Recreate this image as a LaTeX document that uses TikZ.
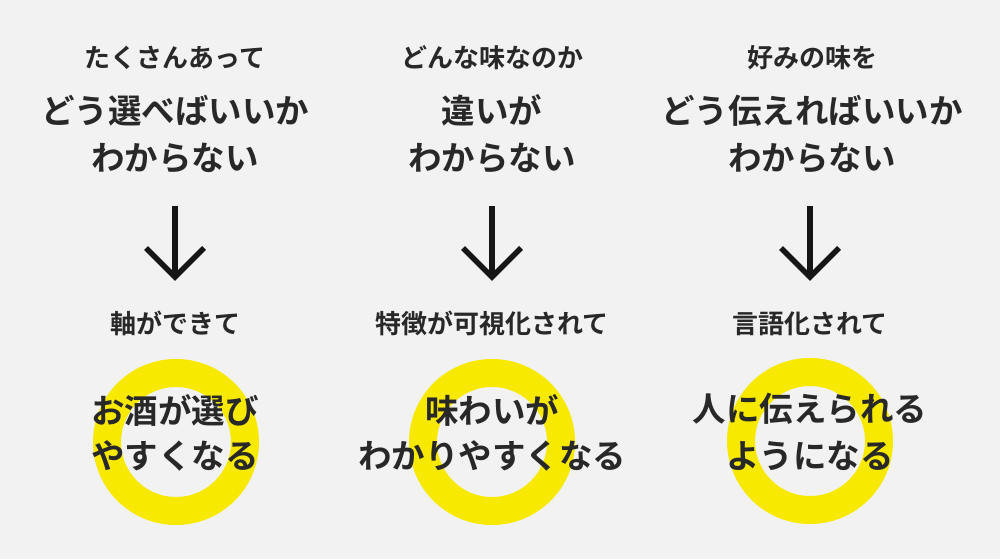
\documentclass[tikz,border=0pt]{standalone}
\usepackage{fontspec}
\setmainfont{Noto Sans CJK JP}[BoldFont={Noto Sans CJK JP Bold}]
\definecolor{bg}{RGB}{242,242,242}
\definecolor{ink}{RGB}{40,40,40}
\definecolor{arrowink}{RGB}{22,22,22}
\definecolor{ring}{RGB}{247,234,0}
\begin{document}
\begin{tikzpicture}[x=1pt,y=-1pt,
  small/.style={anchor=base,inner sep=0pt,text=ink,font=\bfseries\fontsize{26}{30}\selectfont},
  big/.style={anchor=base,inner sep=0pt,text=ink,font=\bfseries\fontsize{33.5}{40}\selectfont},
  arrowline/.style={draw=arrowink,line width=5.5pt,line join=miter},
  ringstyle/.style={draw=ring,line width=28pt}]
\fill[bg] (0,0) rectangle (1000,559);
\useasboundingbox (0,0) rectangle (1000,559);
% rings
\draw[ringstyle] (176,442) circle[radius=69];
\draw[ringstyle] (492,442) circle[radius=69];
\draw[ringstyle] (810,441) circle[radius=69];
% column 1
\node[small] (t1) at (175,68) {たくさんあって};
\node[big] (b1a) at (175,123) {どう選べばいいか};
\node[big] (b1b) at (175,170) {わからない};
\node[small] (m1) at (175,333) {軸ができて};
\node[big] (r1a) at (175,423) {お酒が選び};
\node[big] (r1b) at (175,468) {やすくなる};
% column 2
\node[small] (t2) at (492,68) {どんな味なのか};
\node[big] (b2a) at (492,123) {違いが};
\node[big] (b2b) at (492,170) {わからない};
\node[small] (m2) at (492,333) {特徴が可視化されて};
\node[big] (r2a) at (492,423) {味わいが};
\node[big] (r2b) at (492,468) {わかりやすくなる};
% column 3
\node[small] (t3) at (812,68) {好みの味を};
\node[big] (b3a) at (812,123) {どう伝えればいいか};
\node[big] (b3b) at (812,170) {わからない};
\node[small] (m3) at (810,333) {言語化されて};
\node[big] (r3a) at (810,421) {人に伝えられる};
\node[big] (r3b) at (810,468) {ようになる};
% arrows
\coordinate (a1s) at (175,206); \coordinate (a1e) at (175,277);
\coordinate (a2s) at (492,206); \coordinate (a2e) at (492,277);
\coordinate (a3s) at (810,206); \coordinate (a3e) at (810,277);
\foreach \a in {1,2,3}{
  \draw[arrowline] (a\a s) -- (a\a e);
  \draw[arrowline] (a\a e) ++(-29,-29) -- (a\a e) -- ++(29,-29);
}
\end{tikzpicture}
\end{document}
